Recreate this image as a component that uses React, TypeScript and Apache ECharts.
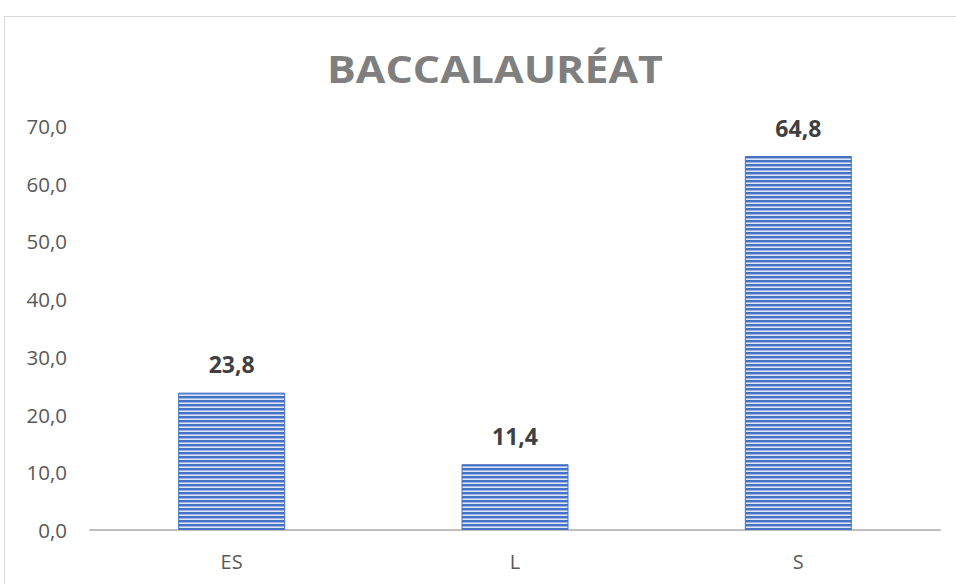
import React, { useEffect, useRef } from "react";
import * as echarts from "echarts";

const categories = ["ES", "L", "S"];
const values = [23.8, 11.4, 64.8];
const titleText = "BACCALAURÉAT";
const yMin = 0;
const yMax = 70;
const yInterval = 10;

function makeStripePattern(): HTMLCanvasElement {
  const c = document.createElement("canvas");
  c.width = 4;
  c.height = 4;
  const ctx = c.getContext("2d")!;
  ctx.fillStyle = "#4472C4";
  ctx.fillRect(0, 0, 4, 2);
  ctx.fillStyle = "#9DB5E2";
  ctx.fillRect(0, 2, 4, 1);
  ctx.fillStyle = "#DCE5F5";
  ctx.fillRect(0, 3, 4, 1);
  return c;
}

export default function App() {
  const ref = useRef<HTMLDivElement>(null);
  useEffect(() => {
    if (!ref.current) return;
    const chart = echarts.init(ref.current, null, { renderer: "svg" });
    const pattern = makeStripePattern();
    const fmt = (v: number) => v.toFixed(1).replace(".", ",");
    chart.setOption({
      animation: false,
      backgroundColor: "#ffffff",
      graphic: [
        {
          type: "rect",
          shape: { x: 4.5, y: 16.5, width: 1000, height: 1000 },
          style: { fill: "none", stroke: "#D9D9D9", lineWidth: 1 },
          silent: true,
        },
        {
          type: "text",
          x: 495,
          y: 68,
          scaleX: 1.13,
          scaleY: 1,
          style: {
            text: titleText,
            fontFamily: "Open Sans",
            fontWeight: "bold",
            fontSize: 38,
            fill: "#7F7F7F",
            align: "center",
            verticalAlign: "middle",
          },
          silent: true,
        },
      ],
      grid: { left: 90, right: 16, top: 126, bottom: 54, containLabel: false },
      xAxis: {
        type: "category",
        data: categories,
        axisLine: { show: true, lineStyle: { color: "#BFBFBF", width: 2 } },
        axisTick: { show: false },
        axisLabel: {
          fontFamily: "Open Sans",
          fontSize: 20,
          color: "#595959",
          margin: 21,
        },
      },
      yAxis: {
        type: "value",
        min: yMin,
        max: yMax,
        interval: yInterval,
        axisLine: { show: false },
        axisTick: { show: false },
        splitLine: { show: false },
        axisLabel: {
          fontFamily: "Open Sans",
          fontSize: 20.5,
          color: "#595959",
          margin: 23,
          formatter: (v: number) => fmt(v),
        },
      },
      series: [
        {
          type: "bar",
          data: values,
          barWidth: 107,
          itemStyle: {
            color: { image: pattern, repeat: "repeat" },
            borderColor: "#4472C4",
            borderWidth: 1,
          },
          label: {
            show: true,
            position: "top",
            distance: 17,
            fontFamily: "Open Sans",
            fontWeight: "bold",
            fontSize: 23,
            color: "#404040",
            formatter: (p: any) => fmt(p.value),
          },
        },
      ],
    });
    return () => chart.dispose();
  }, []);
  return (
    <div
      ref={ref}
      style={{ position: "fixed", left: 0, top: 0, width: 956, height: 584 }}
    />
  );
}
